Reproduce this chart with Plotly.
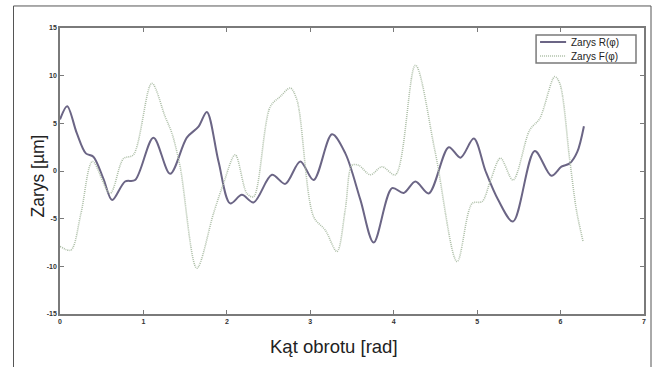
import plotly.graph_objects as go

# Zarys R(phi) - solid curve
r_x = [0.0, 0.086, 0.2, 0.31, 0.40, 0.52, 0.625, 0.78, 0.90, 1.12, 1.32, 1.52, 1.66, 1.76, 1.90, 2.04, 2.18, 2.32,
       2.54, 2.70, 2.88, 3.04, 3.26, 3.42, 3.60, 3.76, 3.98, 4.12, 4.26, 4.42, 4.66, 4.80, 4.96, 5.10, 5.25, 5.43,
       5.69, 5.89, 6.01, 6.11, 6.20, 6.28]
r_y = [5.4, 6.8, 4.0, 1.85, 1.5, -0.8, -3.05, -1.1, -0.95, 3.5, -0.3, 3.5, 4.65, 6.2, 1.0, -3.4, -2.5, -3.3,
       -0.4, -1.35, 1.0, -0.95, 3.85, 1.85, -3.0, -7.5, -1.8, -2.3, -1.1, -2.35, 2.5, 1.4, 3.4, 0.0, -3.0, -5.3,
       2.1, -0.5, 0.45, 0.8, 2.0, 4.7]

# Zarys F(phi) - dotted curve
f_x = [0.0, 0.13, 0.25, 0.39, 0.60, 0.76, 0.88, 1.10, 1.26, 1.34, 1.44, 1.64, 1.84, 1.96, 2.10, 2.24, 2.32,
       2.52, 2.64, 2.76, 2.84, 3.04, 3.18, 3.32, 3.42, 3.50, 3.58, 3.72, 3.86, 4.02, 4.26, 4.50, 4.76, 4.94,
       5.06, 5.16, 5.28, 5.43, 5.63, 5.75, 5.93, 5.99, 6.11, 6.19, 6.27]
f_y = [-7.9, -8.3, -4.5, 1.0, -2.35, 1.3, 1.7, 9.2, 5.7, 4.0, 0.45, -10.2, -4.45, -1.3, 1.7, -2.35, -2.7,
       6.75, 7.8, 8.7, 7.45, -4.8, -6.2, -8.45, -4.0, 0.6, 0.6, -0.4, 0.45, -0.4, 11.1, 1.85, -9.5, -3.4,
       -3.2, -1.0, 1.35, -0.95, 4.3, 5.5, 9.9, 9.2, 1.15, -4.1, -7.4]

x_ticks = [0, 1, 2, 3, 4, 5, 6, 7]
y_ticks = [-15, -10, -5, 0, 5, 10, 15]
series_names = ["Zarys R(φ)", "Zarys F(φ)"]
x_title = "Kąt obrotu [rad]"
y_title = "Zarys [µm]"
R_COLOR = "#6b6585"
F_COLOR = "#aebfa8"
F_DASH = "1px,1px"

fig = go.Figure()
fig.add_trace(go.Scatter(x=r_x, y=r_y, mode="lines", name=series_names[0],
                         line=dict(color=R_COLOR, width=2, shape="spline", smoothing=0.9)))
fig.add_trace(go.Scatter(x=f_x, y=f_y, mode="lines", name=series_names[1],
                         line=dict(color=F_COLOR, width=1.6, dash=F_DASH, shape="spline", smoothing=0.9)))

axis_common = dict(showline=True, linecolor="#7a7a7a", linewidth=1.5, mirror="ticks",
                   ticks="inside", ticklen=4, tickcolor="#7a7a7a", showgrid=False, zeroline=False,
                   automargin=False,
                   tickfont=dict(family="Liberation Sans", size=7, color="#333333"))

fig.update_xaxes(range=[0, 7], tickvals=x_ticks, ticktext=[f"<b>{v}</b>" for v in x_ticks], **axis_common)
fig.update_yaxes(range=[-15, 15], tickvals=y_ticks, ticktext=[f"<b>{v}</b>" for v in y_ticks], **axis_common)

# manual compact legend (paper coordinates)
lx0, lx1, ly0, ly1 = 0.8152, 0.9863, 0.8776, 0.9755
seg_x0, seg_x1, txt_x = 0.822, 0.8666, 0.8717
rows_y = [0.951, 0.902]
shapes = [dict(type="rect", xref="paper", yref="paper", x0=-0.0796, x1=1.012, y0=-0.19, y1=1.077,
               line=dict(color="#555555", width=1), layer="below"),
          dict(type="rect", xref="paper", yref="paper", x0=lx0, x1=lx1, y0=ly0, y1=ly1,
               line=dict(color="#7a7a7a", width=1.5), fillcolor="white")]
annotations = [
    dict(xref="paper", yref="paper", x=0.4696, y=-0.1119, text=x_title, showarrow=False,
         xanchor="center", yanchor="middle",
         font=dict(family="Liberation Sans", size=18.5, color="#222")),
    dict(xref="paper", yref="paper", x=-0.0376, y=0.4808, text=y_title, showarrow=False,
         textangle=-90, xanchor="center", yanchor="middle",
         font=dict(family="Liberation Sans", size=17.5, color="#222")),
]
for name, yy, col, w, dash in zip(series_names, rows_y, [R_COLOR, F_COLOR], [2, 1.6], ["solid", F_DASH]):
    shapes.append(dict(type="line", xref="paper", yref="paper", x0=seg_x0, x1=seg_x1, y0=yy, y1=yy,
                       line=dict(color=col, width=w, dash=dash)))
    annotations.append(dict(xref="paper", yref="paper", x=txt_x, y=yy, text=name, showarrow=False,
                            xanchor="left", yanchor="middle",
                            font=dict(family="Liberation Sans", size=10, color="#222")))

fig.update_layout(
    width=656, height=367,
    margin=dict(l=59.5, r=12, t=28, b=53),
    paper_bgcolor="white", plot_bgcolor="white",
    showlegend=False,
    shapes=shapes,
    annotations=annotations,
)

fig.write_html("out.html", config={"displayModeBar": False},
               post_script="document.body.style.margin='0';document.body.style.overflow='hidden';")
